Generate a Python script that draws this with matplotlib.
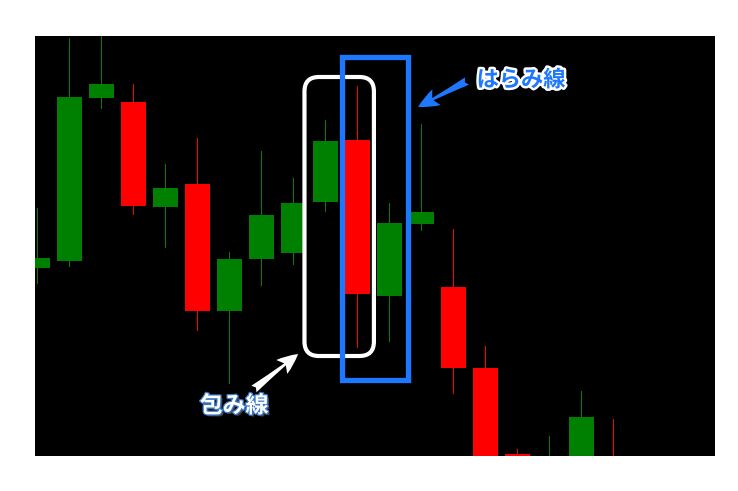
#!/usr/bin/env python3
"""
Candlestick sketch with engulfing / harami annotations.
"""

import matplotlib

matplotlib.use("Agg")
import matplotlib.pyplot as plt
import matplotlib.patheffects as pe
from matplotlib.patches import FancyBboxPatch, Rectangle

plt.rcParams["font.family"] = ["Noto Sans CJK JP", "DejaVu Sans"]

# price scale is arbitrary (no axis shown)
opens = [232, 239, 402, 398, 293, 316, 189, 241, 247, 298, 360, 204, 276, 213, 132, 46, 20, 20, 40]
closes = [242, 403, 416, 294, 312, 189, 241, 285, 297, 359, 206, 277, 288, 132, 30, 10, 30, 83, 0]
highs = [292, 462, 470, 416, 336, 362, 248, 349, 322, 380, 414, 297, 376, 271, 154, 51, 64, 109, 81]
lows = [217, 234, 392, 286, 253, 170, 117, 215, 236, 289, 153, 159, 270, 107, 0, 0, 0, 0, 0]

GREEN = "#008000"
RED = "#ff0000"
BLUE = "#1e78ff"


def draw_candles(ax):
    width = 0.78
    for i, (o, c, h, l) in enumerate(zip(opens, closes, highs, lows)):
        color = GREEN if c >= o else RED
        # 1px wick
        ax.plot([i, i], [l, h], color=color, linewidth=0.72, antialiased=False, zorder=2)
        ax.add_patch(
            Rectangle((i - width / 2, min(o, c)), width, abs(c - o),
                      facecolor=color, edgecolor="none", zorder=3)
        )


def main():
    fig = plt.figure(figsize=(7.38, 4.91), dpi=100)
    ax = fig.add_axes([35 / 738, 35 / 491, 680 / 738, 420 / 491])
    ax.set_facecolor("black")
    ax.set_xlim(-0.072, 21.18)
    ax.set_ylim(44, 464)
    ax.set_xticks([])
    ax.set_yticks([])
    for s in ax.spines.values():
        s.set_visible(False)

    draw_candles(ax)

    # engulfing box (white, rounded); x unit ~32px, y unit ~1px
    ax.add_patch(
        FancyBboxPatch((8.35, 144), 10.52 - 8.35, 423 - 144,
                       boxstyle="round,pad=0,rounding_size=0.45",
                       mutation_aspect=32, facecolor="none",
                       edgecolor="white", linewidth=3, zorder=5)
    )
    # harami box (blue)
    ax.add_patch(
        Rectangle((9.51, 120), 11.6 - 9.51, 443.5 - 120, facecolor="none",
                  edgecolor=BLUE, linewidth=3.8, zorder=6)
    )

    arrow = "fancy,head_length=1.0,head_width=0.85,tail_width=0.4"
    ax.annotate("", xy=(11.9, 393), xytext=(13.43, 419),
                arrowprops=dict(arrowstyle=arrow, mutation_scale=15,
                                color=BLUE, linewidth=0, shrinkA=0, shrinkB=0),
                zorder=7)
    ax.annotate("", xy=(8.15, 146), xytext=(6.77, 111),
                arrowprops=dict(arrowstyle=arrow, mutation_scale=15,
                                color="white", linewidth=0, shrinkA=0, shrinkB=0),
                zorder=7)

    ax.text(15.12, 420, "はらみ線", color=BLUE, fontsize=16, fontweight="bold",
            ha="center", va="center", zorder=8,
            path_effects=[pe.withSimplePatchShadow(offset=(1.5, -1.5), alpha=0.8),
                          pe.Stroke(linewidth=3.5, foreground="white"),
                          pe.Normal()])
    ax.text(6.15, 94, "包み線", color="white", fontsize=16.5, fontweight="bold",
            ha="center", va="center", zorder=8,
            path_effects=[pe.withSimplePatchShadow(offset=(1.5, -1.5), alpha=0.8),
                          pe.Stroke(linewidth=1.8, foreground="#3a78c8"),
                          pe.Normal()])

    fig.savefig("out.png", dpi=100, facecolor="white")


if __name__ == "__main__":
    main()
